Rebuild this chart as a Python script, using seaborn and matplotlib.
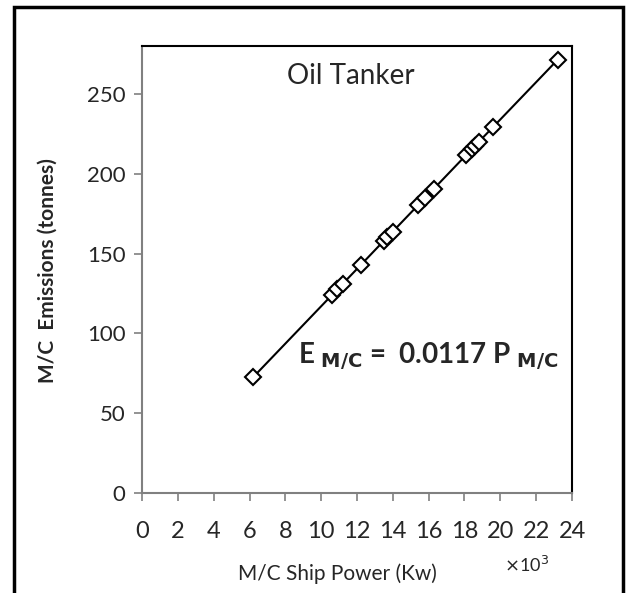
import matplotlib
matplotlib.use("Agg")
import matplotlib.pyplot as plt
import seaborn as sns
import pandas as pd
from matplotlib.patches import Rectangle

# Main-engine power (x10^3 kW) and corresponding emissions (tonnes)
power_k = [6.2, 10.6, 10.9, 11.2, 12.2, 13.5, 13.7, 14.0, 15.4, 15.8,
           16.3, 18.1, 18.4, 18.6, 18.8, 19.6, 23.2]
emissions = [72.5, 124.0, 127.5, 131.0, 142.7, 158.0, 160.3, 163.8, 180.2, 184.9,
             190.7, 211.8, 215.3, 217.6, 220.0, 229.3, 271.4]

x_ticks = list(range(0, 25, 2))
y_ticks = [0, 50, 100, 150, 200, 250]

df = pd.DataFrame({"power": power_k, "emissions": emissions})

sns.set_theme(style="white")
plt.rcParams["font.family"] = ["Lato", "DejaVu Sans"]

fig = plt.figure(figsize=(6.27, 5.93), dpi=100)
W, H = 627, 593
ax = fig.add_axes([142 / W, 1 - 493 / H, (572 - 142) / W, (493 - 46) / H])

sns.lineplot(data=df, x="power", y="emissions", ax=ax, color="black",
             linewidth=1.5, marker="D", markersize=8, markerfacecolor="white",
             markeredgecolor="black", markeredgewidth=1.5, sort=True)

ax.set_xlim(0, 24)
ax.set_ylim(0, 280)
ax.set_xticks(x_ticks)
ax.set_yticks(y_ticks)
ax.set_xticklabels([str(v) for v in x_ticks], fontsize=17)
ax.set_yticklabels([str(v) for v in y_ticks], fontsize=16)
ax.tick_params(axis="both", which="major", direction="out", length=6,
               width=1.2, color="#808080", bottom=True, left=True)
ax.tick_params(axis="x", pad=14)
ax.tick_params(axis="y", pad=6)
ax.set_xlabel("")
ax.set_ylabel("")

for side in ("left", "bottom"):
    ax.spines[side].set_color("#808080")
    ax.spines[side].set_linewidth(1.5)
for side in ("top", "right"):
    ax.spines[side].set_color("black")
    ax.spines[side].set_linewidth(1.5)

ax.text(0.486, 0.933, "Oil Tanker", transform=ax.transAxes, fontsize=20,
        ha="center", va="center")
ax.text(0.363, 0.306, r"E $_{\mathbf{M/C}}$ =  0.0117 P $_{\mathbf{M/C}}$",
        transform=ax.transAxes, fontsize=20, fontweight="bold",
        ha="left", va="center")

fig.text(337 / W, 1 - 574 / H, "M/C Ship Power (Kw)", fontsize=15,
         ha="center", va="center")
fig.text(527 / W, 1 - 565 / H, r"$\times$10$^3$", fontsize=13,
         ha="center", va="center")
fig.text(48 / W, 1 - 271 / H, "M/C  Emissions (tonnes)", fontsize=15,
         fontweight="bold", rotation=90, ha="center", va="center")

# Outer frame, open at the bottom edge of the image
fig.patches.append(Rectangle((14 / W, -0.02), (623 - 14) / W, (1 - 7 / H) + 0.02,
                             transform=fig.transFigure, fill=False,
                             edgecolor="black", linewidth=2.5))

fig.savefig("out.png", dpi=100)
